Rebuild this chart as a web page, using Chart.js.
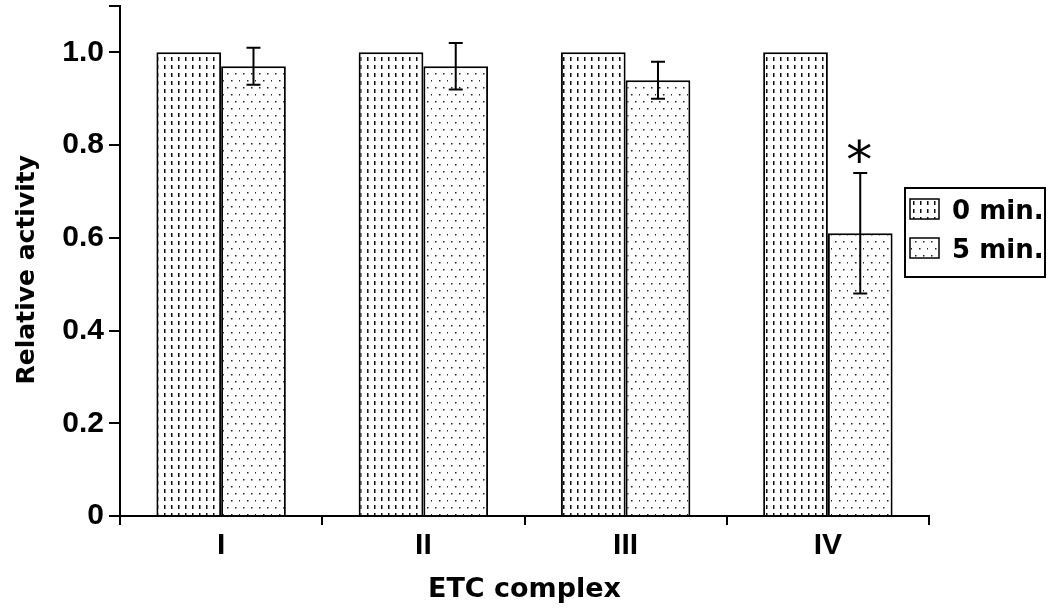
<!DOCTYPE html>
<html>
<head>
<meta charset="utf-8">
<script src="https://cdn.jsdelivr.net/npm/chart.js@4.4.0/dist/chart.umd.min.js"></script>
<style>
  html, body { margin: 0; padding: 0; background: #fff; }
  #wrap { width: 1050px; height: 610px; position: relative; }
</style>
</head>
<body>
<div id="wrap"><canvas id="c" width="1050" height="610"></canvas></div>
<script>
const categories = ['I', 'II', 'III', 'IV'];
const seriesNames = ['0 min.', '5 min.'];
const values0 = [1.0, 1.0, 1.0, 1.0];
const values5 = [0.97, 0.97, 0.94, 0.61];
const errors5 = [0.04, 0.05, 0.04, 0.13];
const significant = [false, false, false, true];
const yTickValues = [0, 0.2, 0.4, 0.6, 0.8, 1.0];
const yAxisTop = 1.1;

function makePattern(kind) {
  const c = document.createElement('canvas');
  const ctx = c.getContext('2d');
  if (kind === 'dash') {
    c.width = 7; c.height = 8;
    ctx.fillStyle = '#fff'; ctx.fillRect(0, 0, 7, 8);
    ctx.fillStyle = '#111';
    ctx.fillRect(3, 1, 1.5, 4);
  } else {
    c.width = 16; c.height = 14;
    ctx.fillStyle = '#fff'; ctx.fillRect(0, 0, 16, 14);
    ctx.fillStyle = '#222';
    ctx.fillRect(3, 3, 1.5, 1.5);
    ctx.fillRect(11, 3, 1.5, 1.5);
    ctx.fillRect(7, 10, 1.5, 1.5);
    ctx.fillRect(15, 10, 1.5, 1.5);
  }
  return document.getElementById('c').getContext('2d').createPattern(c, 'repeat');
}
const pat0 = makePattern('dash');
const pat5 = makePattern('dot');

Chart.defaults.font.family = "'Liberation Sans', Arial, sans-serif";
Chart.defaults.font.weight = 'bold';
Chart.defaults.color = '#000';

const extras = {
  id: 'extras',
  afterDatasetsDraw(chart) {
    const ctx = chart.ctx;
    const y = chart.scales.y;
    const meta = chart.getDatasetMeta(1);
    ctx.save();
    ctx.strokeStyle = '#000';
    ctx.lineWidth = 2;
    meta.data.forEach((bar, i) => {
      const x = bar.x;
      const top = y.getPixelForValue(values5[i] + errors5[i]);
      const bot = y.getPixelForValue(values5[i] - errors5[i]);
      ctx.beginPath();
      ctx.moveTo(x, top); ctx.lineTo(x, bot);
      ctx.moveTo(x - 7, top); ctx.lineTo(x + 7, top);
      ctx.moveTo(x - 7, bot); ctx.lineTo(x + 7, bot);
      ctx.stroke();
      if (significant[i]) {
        ctx.fillStyle = '#000';
        ctx.font = "normal 52px 'DejaVu Sans'";
        ctx.textAlign = 'center';
        ctx.textBaseline = 'middle';
        ctx.fillText('*', x - 1, top - 8);
      }
    });
    // legend
    const lx = 905, ly = 188, lw = 140, lh = 89;
    ctx.fillStyle = '#fff';
    ctx.fillRect(lx, ly, lw, lh);
    ctx.lineWidth = 2;
    ctx.strokeRect(lx, ly, lw, lh);
    const pats = [pat0, pat5];
    const rows = [199, 238];
    ctx.font = "bold 26px 'DejaVu Sans'";
    ctx.textAlign = 'left';
    ctx.textBaseline = 'alphabetic';
    rows.forEach((ry, k) => {
      ctx.fillStyle = pats[k];
      ctx.fillRect(910, ry, 29, 20);
      ctx.lineWidth = 1.5;
      ctx.strokeRect(910, ry, 29, 20);
      ctx.fillStyle = '#000';
      ctx.fillText(seriesNames[k], 952, ry + 20);
    });
    ctx.restore();
  }
};

new Chart(document.getElementById('c'), {
  type: 'bar',
  data: {
    labels: categories,
    datasets: [
      { label: seriesNames[0], data: values0, backgroundColor: pat0, borderColor: '#000', borderWidth: 2, borderSkipped: 'bottom' },
      { label: seriesNames[1], data: values5, backgroundColor: pat5, borderColor: '#000', borderWidth: 2, borderSkipped: 'bottom' }
    ]
  },
  options: {
    responsive: false,
    animation: false,
    layout: { padding: { top: 6, right: 121, left: 0, bottom: 0 } },
    plugins: { legend: { display: false }, tooltip: { enabled: false } },
    datasets: { bar: { categoryPercentage: 0.64, barPercentage: 1.0 } },
    scales: {
      x: {
        offset: true,
        grid: { offset: true, drawOnChartArea: false, drawTicks: true, tickLength: 9, color: '#000', lineWidth: 2 },
        border: { color: '#000', width: 2 },
        ticks: { font: { size: 30, weight: 'bold' }, padding: 3, color: '#000' },
        title: { display: true, text: 'ETC complex', font: { family: "'DejaVu Sans'", size: 27, weight: 'bold' }, padding: { top: 4, bottom: 4 }, color: '#000' },
        afterFit(s) { s.height = 94; s.paddingLeft = 0; s.paddingRight = 0; }
      },
      y: {
        min: 0, max: yAxisTop,
        afterBuildTicks(s) { s.ticks = yTickValues.concat([yAxisTop]).map(v => ({ value: v })); },
        grid: { drawOnChartArea: false, tickLength: 11, color: '#000', lineWidth: 2 },
        border: { color: '#000', width: 2 },
        ticks: {
          font: { size: 30, weight: 'bold' }, padding: 5, color: '#000',
          callback(v) { if (v > 1.05) return ''; return v === 0 ? '0' : v.toFixed(1); }
        },
        title: { display: true, text: 'Relative activity  ', font: { family: "'DejaVu Sans'", size: 25, weight: 'bold' }, padding: { top: 12, bottom: 4 }, color: '#000' },
        afterFit(s) { s.width = 120; s.paddingTop = 0; s.paddingBottom = 0; }
      }
    }
  },
  plugins: [extras]
});
</script>
</body>
</html>
